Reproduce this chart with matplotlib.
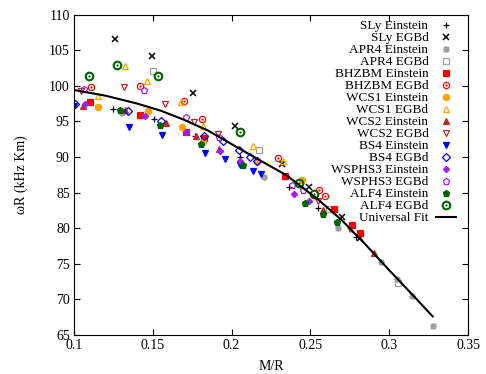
import matplotlib
matplotlib.use("Agg")
from matplotlib import pyplot as plt

plt.rcParams['font.family'] = ['Liberation Serif', 'DejaVu Serif']

# ============== DATA ==============

sly_ein_x = [0.1249, 0.1508, 0.1768, 0.2053, 0.2366, 0.2550, 0.2789]
sly_ein_y = [96.8, 95.3, 92.9, 90.0, 85.85, 82.8, 78.75]
sly_egb_x = [0.1260, 0.1493, 0.1757, 0.2022, 0.2318, 0.2491, 0.2699, 0.2815]
sly_egb_y = [106.5, 104.2, 99.0, 94.3, 89.0, 85.8, 81.55, 78.6]

apr4_ein_x = [0.1303, 0.1820, 0.2206, 0.2677, 0.2948, 0.3048, 0.3143, 0.3276]
apr4_ein_y = [96.1, 92.2, 87.2, 80.0, 75.25, 72.8, 70.5, 66.3]
apr4_egb_x = [0.1499, 0.2174, 0.2620, 0.3054]
apr4_egb_y = [102.1, 91.0, 82.7, 72.3]

bhzbm_ein_x = [0.1102, 0.1419, 0.1711, 0.1825, 0.2339, 0.2650, 0.2762, 0.2815]
bhzbm_ein_y = [97.7, 95.9, 93.5, 92.6, 87.35, 82.7, 80.5, 79.3]
bhzbm_egb_x = [0.1106, 0.1419, 0.1698, 0.1810, 0.2297, 0.2557, 0.2593]
bhzbm_egb_y = [99.8, 100.0, 97.9, 95.3, 89.8, 85.4, 84.5]

wcs1_ein_x = [0.1150, 0.1468, 0.1683, 0.1820, 0.2163, 0.2445]
wcs1_ein_y = [97.0, 96.4, 94.2, 92.1, 89.3, 86.8]
wcs1_egb_x = [0.1150, 0.1324, 0.1465, 0.1679, 0.1817, 0.2138, 0.2324]
wcs1_egb_y = [98.6, 102.8, 100.7, 97.7, 94.4, 91.6, 89.5]

wcs2_ein_x = [0.1055, 0.1324, 0.1584, 0.1772, 0.1922, 0.2582, 0.2905]
wcs2_ein_y = [97.2, 96.6, 94.7, 93.0, 91.1, 82.5, 76.5]
wcs2_egb_x = [0.1043, 0.1317, 0.1577, 0.1763, 0.1912, 0.2550, 0.2751]
wcs2_egb_y = [99.3, 99.8, 97.5, 94.9, 93.2, 83.75, 79.9]

bs4_ein_x = [0.1000, 0.1351, 0.1556, 0.1831, 0.1958, 0.2053, 0.2134, 0.2185]
bs4_ein_y = [97.2, 94.2, 93.1, 90.6, 89.7, 88.8, 88.0, 87.6]
bs4_egb_x = [0.1006, 0.1345, 0.1550, 0.1825, 0.1943, 0.2047, 0.2117, 0.2159]
bs4_egb_y = [97.5, 96.4, 95.1, 93.0, 92.2, 91.0, 90.05, 89.5]

wsphs3_ein_x = [0.1070, 0.1451, 0.1711, 0.1926, 0.2053, 0.2398, 0.2491]
wsphs3_ein_y = [97.5, 95.8, 93.5, 90.9, 89.5, 84.8, 83.75]
wsphs3_egb_x = [0.1063, 0.1444, 0.1711, 0.1922, 0.2381, 0.2455]
wsphs3_egb_y = [99.6, 99.4, 95.6, 92.8, 86.1, 85.4]

alf4_ein_x = [0.1289, 0.1546, 0.1806, 0.2070, 0.2463, 0.2582, 0.2671]
alf4_ein_y = [96.6, 94.5, 91.8, 88.9, 83.6, 82.0, 80.9]
alf4_egb_x = [0.1097, 0.1275, 0.1531, 0.2053, 0.2430, 0.2523]
alf4_egb_y = [101.4, 102.9, 101.4, 93.5, 86.4, 84.8]

fit_x = [0.100, 0.120, 0.140, 0.155, 0.170, 0.185, 0.200, 0.215, 0.235,
         0.255, 0.270, 0.285, 0.300, 0.315, 0.3276]
fit_y = [99.4, 98.6, 97.5, 96.5, 95.2, 93.7, 91.8, 89.9, 87.4,
         84.0, 81.1, 77.7, 74.1, 70.6, 67.6]

# ============== GRAPHIQUE ==============

fig = plt.figure(figsize=(4.86, 3.74), dpi=100)
ax = fig.add_axes([74 / 486, 1 - 335 / 374, 394 / 486, 320.5 / 374])

ms = 4.0


def scatter(x, y, label, marker, color, filled=True, size=ms, mew=0.9):
    if filled:
        return ax.plot(x, y, linestyle='none', marker=marker, color=color,
                       markersize=size, markeredgewidth=mew, label=label)[0]
    return ax.plot(x, y, linestyle='none', marker=marker, markerfacecolor='none',
                   markeredgecolor=color, markersize=size, markeredgewidth=mew,
                   label=label)[0]


def dotted_circle(x, y, label, color, size, mew):
    ring = scatter(x, y, label, 'o', color, filled=False, size=size, mew=mew)
    dot = ax.plot(x, y, linestyle='none', marker='o', color=color,
                  markersize=1.6, markeredgewidth=0)[0]
    return (ring, dot)


grey = '#a0a0a0'
red = '#ff0000'
orange = '#ffa500'
brown = '#b22e2e'
blue = '#0000ff'
purple = '#a020f0'
green = '#006400'

handles = []
handles.append(scatter(sly_ein_x, sly_ein_y, 'SLy Einstein', '+', 'black', size=5))
handles.append(scatter(sly_egb_x, sly_egb_y, 'SLy EGBd', 'x', 'black', size=4.5, mew=1.1))
handles.append(scatter(apr4_ein_x, apr4_ein_y, 'APR4 Einstein', (8, 2, 0), grey, size=5))
handles.append(scatter(apr4_egb_x, apr4_egb_y, 'APR4 EGBd', 's', grey, filled=False))
handles.append(scatter(bhzbm_ein_x, bhzbm_ein_y, 'BHZBM Einstein', 's', red, size=4.3))
handles.append(dotted_circle(bhzbm_egb_x, bhzbm_egb_y, 'BHZBM EGBd', red, 4.5, 0.9))
handles.append(scatter(wcs1_ein_x, wcs1_ein_y, 'WCS1 Einstein', 'o', orange, size=4.5))
handles.append(scatter(wcs1_egb_x, wcs1_egb_y, 'WCS1 EGBd', '^', orange, filled=False, size=4.5))
handles.append(scatter(wcs2_ein_x, wcs2_ein_y, 'WCS2 Einstein', '^', brown, size=4.3))
handles.append(scatter(wcs2_egb_x, wcs2_egb_y, 'WCS2 EGBd', 'v', brown, filled=False, size=4.5))
handles.append(scatter(bs4_ein_x, bs4_ein_y, 'BS4 Einstein', 'v', blue, size=4.3))
handles.append(scatter(bs4_egb_x, bs4_egb_y, 'BS4 EGBd', 'D', blue, filled=False, size=3.6))
handles.append(scatter(wsphs3_ein_x, wsphs3_ein_y, 'WSPHS3 Einstein', 'D', purple, size=3.2))
handles.append(scatter(wsphs3_egb_x, wsphs3_egb_y, 'WSPHS3 EGBd', 'p', purple, filled=False, size=4.8))
handles.append(scatter(alf4_ein_x, alf4_ein_y, 'ALF4 Einstein', 'p', green, size=4.5))
handles.append(dotted_circle(alf4_egb_x, alf4_egb_y, 'ALF4 EGBd', green, 5.5, 1.5))
handles.append(ax.plot(fit_x, fit_y, color='black', linewidth=1.5, label='Universal Fit')[0])

labels = ['SLy Einstein', 'SLy EGBd', 'APR4 Einstein', 'APR4 EGBd', 'BHZBM Einstein',
          'BHZBM EGBd', 'WCS1 Einstein', 'WCS1 EGBd', 'WCS2 Einstein', 'WCS2 EGBd',
          'BS4 Einstein', 'BS4 EGBd', 'WSPHS3 Einstein', 'WSPHS3 EGBd', 'ALF4 Einstein',
          'ALF4 EGBd', 'Universal Fit']

ax.set_xlim(0.1, 0.35)
ax.set_ylim(65, 110)
ax.set_xticks([0.1, 0.15, 0.2, 0.25, 0.3, 0.35])
ax.set_xticklabels(['0.1', '0.15', '0.2', '0.25', '0.3', '0.35'])
ax.set_yticks(range(65, 111, 5))
ax.tick_params(direction='in', top=True, right=True, length=4, labelsize=10, pad=3)
ax.set_xlabel('M/R', fontsize=10, labelpad=6)
ax.set_ylabel('ωR (kHz Km)', fontsize=10, labelpad=15)

leg = ax.legend(handles, labels, loc='upper right', markerfirst=False, frameon=False,
                fontsize=9.5, labelspacing=0.0, handlelength=1.5, handletextpad=0.6,
                borderaxespad=0.3, borderpad=0.3,
                bbox_to_anchor=(1 - 4 / 394, 1 + 2 / 320.5))
vp = leg._legend_box._children[-1]._children[0]
for c in vp._children:
    c.align = 'right'

plt.savefig('out.png', dpi=100)
